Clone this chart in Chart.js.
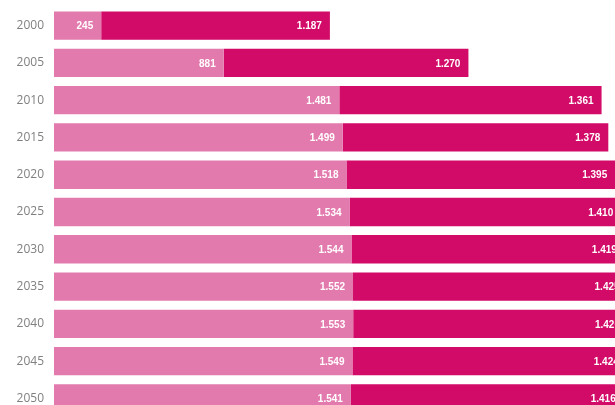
<!DOCTYPE html>
<html>
<head>
<meta charset="utf-8">
<script src="https://cdn.jsdelivr.net/npm/chart.js@4"></script>
<style>
  html, body { margin: 0; padding: 0; background: #fff; overflow: hidden; }
  #wrap { width: 632px; height: 417px; }
</style>
</head>
<body>
<div id="wrap"><canvas id="chart" width="632" height="417"></canvas></div>
<script>
const years = ["2000", "2005", "2010", "2015", "2020", "2025", "2030", "2035", "2040", "2045", "2050"];
const lightValues = [245, 881, 1481, 1499, 1518, 1534, 1544, 1552, 1553, 1549, 1541];
const darkValues = [1187, 1270, 1361, 1378, 1395, 1410, 1419, 1425, 1426, 1424, 1416];

const lightColor = "#e37aae";
const darkColor = "#d20a68";

function fmt(v) {
  // thousands separator as a dot
  return String(v).replace(/\B(?=(\d{3})+(?!\d))/g, ".");
}

// white value labels at the inner end of each segment
const valueLabels = {
  id: "valueLabels",
  afterDatasetsDraw(chart) {
    const ctx = chart.ctx;
    ctx.save();
    ctx.font = "bold 10px 'Liberation Sans', sans-serif";
    ctx.fillStyle = "#ffffff";
    ctx.textAlign = "right";
    ctx.textBaseline = "middle";
    chart.data.datasets.forEach(function (ds, i) {
      const meta = chart.getDatasetMeta(i);
      meta.data.forEach(function (bar, j) {
        ctx.fillText(fmt(ds.data[j]), bar.x - 8, bar.y + 1);
      });
    });
    ctx.restore();
  }
};

new Chart(document.getElementById("chart"), {
  type: "bar",
  data: {
    labels: years,
    datasets: [
      { data: lightValues, backgroundColor: lightColor, borderWidth: 0 },
      { data: darkValues, backgroundColor: darkColor, borderWidth: 0 }
    ]
  },
  options: {
    indexAxis: "y",
    responsive: false,
    animation: false,
    layout: { padding: { top: 7, right: 0, bottom: 0, left: 0 } },
    barPercentage: 0.76,
    categoryPercentage: 1,
    plugins: {
      legend: { display: false },
      tooltip: { enabled: false }
    },
    scales: {
      x: {
        stacked: true,
        min: 0,
        max: 3000,
        display: false
      },
      y: {
        stacked: true,
        grid: { display: false, drawTicks: false },
        border: { display: false },
        ticks: {
          color: "#808080",
          padding: 10,
          font: { family: "'Open Sans', sans-serif", size: 12 }
        },
        afterFit: function (scale) {
          scale.width = 54;
          scale.paddingTop = 0;
          scale.paddingBottom = 0;
        }
      }
    }
  },
  plugins: [valueLabels]
});
</script>
</body>
</html>
